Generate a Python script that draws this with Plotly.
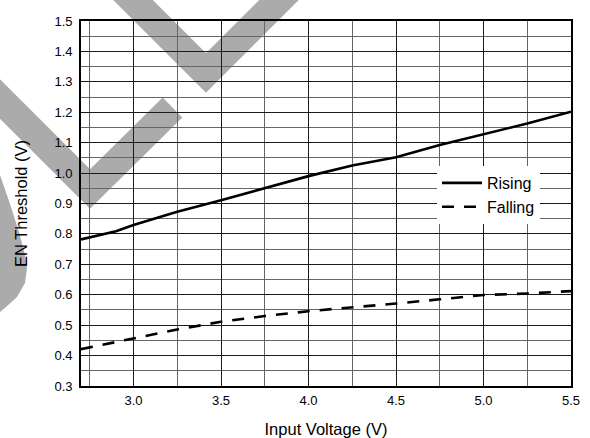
import plotly.graph_objects as go

# ---- data ----
rising_v = [2.7, 2.9, 3.0, 3.25, 3.5, 3.75, 4.0, 4.25, 4.5, 4.75, 5.0, 5.25, 5.5]
rising_th = [0.782, 0.809, 0.829, 0.873, 0.911, 0.950, 0.990, 1.025, 1.052, 1.092, 1.127, 1.163, 1.202]

falling_v = [2.7, 3.0, 3.25, 3.5, 3.75, 4.0, 4.25, 4.5, 4.75, 5.0, 5.25, 5.5]
falling_th = [0.421, 0.456, 0.486, 0.511, 0.530, 0.546, 0.558, 0.571, 0.585, 0.599, 0.604, 0.612]

x_ticks = [3.0, 3.5, 4.0, 4.5, 5.0, 5.5]
x_tick_text = ["3.0", "3.5", "4.0", "4.5", "5.0", "5.5"]

FONT = "Arial, 'Liberation Sans', sans-serif"

W, H = 590, 438
ML, MR, MT, MB = 81, 19, 21, 52
PW, PH = W - ML - MR, H - MT - MB


def pp(px, py):
    # pixel -> paper coordinates (for the background watermark only)
    return (px - ML) / PW, (H - MB - py) / PH


def path(points, close=False):
    s = ""
    for i, (px, py) in enumerate(points):
        x, y = pp(px, py)
        s += ("M" if i == 0 else "L") + f"{x:.4f},{y:.4f} "
    if close:
        s += "Z"
    return s


fig = go.Figure()
fig.add_trace(go.Scatter(x=rising_v, y=rising_th, mode="lines", name="Rising",
                         line=dict(color="black", width=2.6)))
fig.add_trace(go.Scatter(x=falling_v, y=falling_th, mode="lines", name="Falling",
                         line=dict(color="black", width=2.6, dash="12px,10px")))

wm = "#ababab"
shapes = [
    dict(type="path", xref="paper", yref="paper", layer="below",
         path=path([(106, -27), (206, 73), (306, -27)]),
         line=dict(color=wm, width=28)),
    dict(type="path", xref="paper", yref="paper", layer="below",
         path=path([(-60, 39), (90, 189), (172.5, 107.5)]),
         line=dict(color=wm, width=28)),
    dict(type="path", xref="paper", yref="paper", layer="below",
         path=path([(-20, 160), (0, 175), (10, 204), (19, 232), (25, 255), (27, 268),
                    (25, 283), (17, 297), (6, 307), (0, 312), (-20, 325)], close=True),
         fillcolor=wm, line=dict(width=0)),
]

fig.update_layout(
    width=W, height=H,
    margin=dict(l=ML, r=MR, t=MT, b=MB, autoexpand=False),
    paper_bgcolor="white",
    plot_bgcolor="rgba(0,0,0,0)",
    font=dict(family=FONT, color="black", size=13),
    shapes=shapes,
    showlegend=True,
    legend=dict(x=(437 - ML) / PW, y=(H - MB - 166) / PH, xanchor="left", yanchor="top",
                bgcolor="white", borderwidth=0, font=dict(size=16, family=FONT),
                itemwidth=40, tracegroupgap=0),
)

fig.update_xaxes(
    range=[2.7, 5.5], tickvals=x_ticks, ticktext=x_tick_text,
    showgrid=True, gridcolor="#1a1a1a", gridwidth=1.2,
    minor=dict(dtick=0.25, tick0=2.75, showgrid=True, gridcolor="#666666", gridwidth=1.2, ticks=""),
    showline=True, linecolor="black", linewidth=1.6, mirror=True,
    ticks="", zeroline=False, tickfont=dict(size=13), ticklabelstandoff=2,
    title=dict(text="Input Voltage (V)", font=dict(size=16.5), standoff=16),
)
fig.update_yaxes(
    range=[0.3, 1.5], dtick=0.1, tick0=0.3, tickformat=".1f",
    showgrid=True, gridcolor="#1a1a1a", gridwidth=1.2,
    minor=dict(dtick=0.05, tick0=0.3, showgrid=True, gridcolor="#666666", gridwidth=1.2, ticks=""),
    showline=True, linecolor="black", linewidth=1.6, mirror=True,
    ticks="", zeroline=False, tickfont=dict(size=13), ticklabelstandoff=4,
    title=dict(text="EN Threshold (V)", font=dict(size=16.5), standoff=23),
)

fig.write_html("out.html",
               config={"displayModeBar": False},
               post_script="document.body.style.margin='0';document.body.style.padding='0';"
                           "document.body.style.overflow='hidden';")
